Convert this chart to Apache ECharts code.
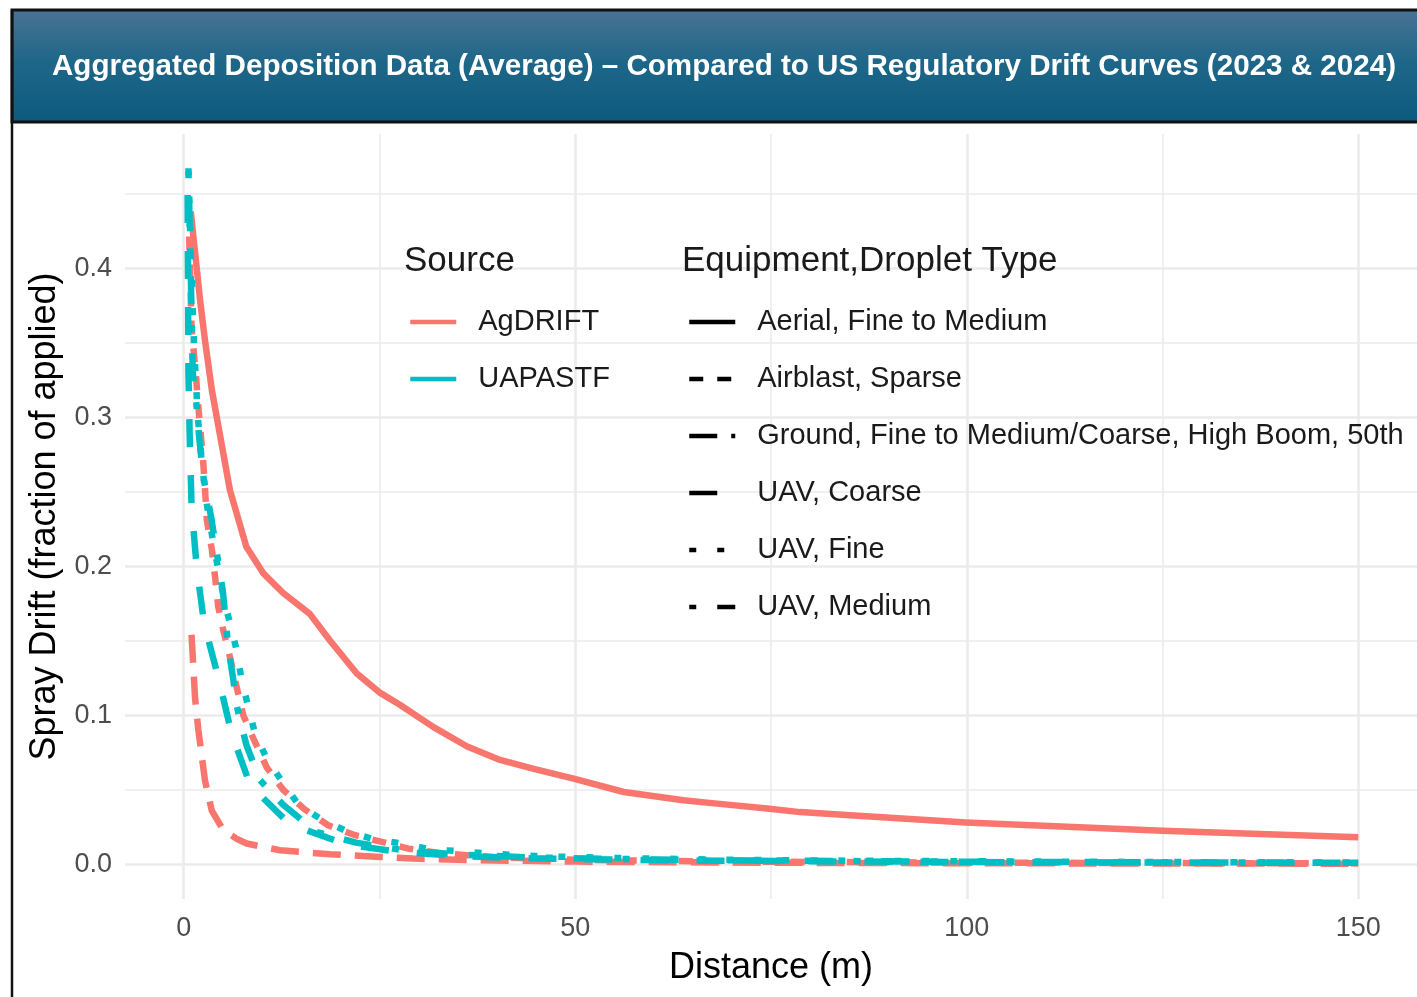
<!DOCTYPE html>
<html><head><meta charset="utf-8">
<script src="https://cdn.jsdelivr.net/npm/echarts@6/dist/echarts.min.js"></script>
<style>html,body{margin:0;padding:0;background:#fff}#c{width:1417px;height:997px}</style>
</head><body><div id="c"></div>
<script>
// ---- data (distance m, fraction of applied) ----
const aerialFineMedium = [[0.9,0.438],[2.1,0.378],[2.7,0.352],[3.6,0.318],[4.6,0.289],[5.9,0.251],[8.0,0.213],[10.2,0.195],[12.7,0.182],[16.1,0.168],[18.7,0.150],[22.1,0.128],[25.1,0.115],[27.6,0.107],[31.9,0.092],[36.2,0.079],[40.4,0.070],[44.7,0.064],[49.8,0.0575],[56.2,0.0485],[63.8,0.043],[68.1,0.0407],[74.5,0.0374],[78.7,0.035],[85.1,0.0329],[99.9,0.0281],[125,0.0225],[150,0.0182]];
const airblastSparse = [[0.6,0.44],[1.0,0.36],[1.6,0.325],[1.9,0.305],[2.5,0.269],[2.75,0.249],[2.95,0.231],[3.6,0.211],[4.0,0.193],[4.4,0.173],[5.1,0.156],[5.9,0.139],[6.8,0.118],[7.6,0.100],[9.1,0.082],[10.6,0.065],[12.7,0.050],[15.4,0.037],[18.5,0.026],[21.9,0.0195],[25.3,0.015],[28.7,0.0105],[32.7,0.0075],[36.2,0.006],[40,0.0047],[50,0.003],[60,0.0023],[75,0.0017],[100,0.0011],[125,0.0008],[150,0.0006]];
const groundHighBoom = [[1.0,0.154],[1.44,0.112],[1.87,0.09],[2.72,0.056],[3.58,0.036],[5.06,0.0228],[6.8,0.017],[8.05,0.0139],[12.3,0.0094],[18.7,0.0067],[25.1,0.0049],[29.3,0.0038],[37.9,0.0027],[50,0.0018],[75,0.001],[100,0.0007],[125,0.0005],[150,0.0004]];
const uavCoarse = [[0.5,0.449],[0.6,0.33],[0.75,0.29],[1.0,0.24],[1.66,0.199],[2.6,0.1615],[4.4,0.1257],[6.1,0.088],[8.5,0.053],[13.5,0.027],[20.7,0.0134],[27,0.0087],[35,0.0055],[45,0.0038],[60,0.0028],[80,0.002],[100,0.0015],[125,0.0012],[150,0.001]];
const uavFine = [[0.6,0.467],[0.9,0.41],[1.3,0.35],[1.8,0.30],[2.4,0.265],[3.0,0.24],[3.8,0.215],[4.5,0.195],[5.4,0.172],[6.1,0.158],[6.8,0.1425],[7.4,0.1235],[8.25,0.1056],[9.1,0.0877],[10.6,0.0709],[12.6,0.0552],[14.7,0.0396],[17.8,0.0295],[21.0,0.0217],[24.4,0.0166],[28,0.0139],[31.5,0.0099],[35.1,0.0089],[38.7,0.0072],[45,0.0055],[55,0.0042],[70,0.003],[85,0.0024],[100,0.002],[125,0.0015],[150,0.0012]];
const uavMedium = [[0.6,0.465],[0.8,0.42],[1.0,0.37],[1.15,0.33],[1.6,0.31],[2.0,0.285],[2.5,0.26],[3.5,0.233],[5.0,0.183],[5.7,0.145],[6.3,0.125],[6.8,0.1056],[8.0,0.080],[9.75,0.0564],[12.7,0.040],[16.9,0.0217],[22,0.0145],[28,0.0095],[35,0.0065],[45,0.0045],[60,0.0032],[80,0.0023],[100,0.0017],[125,0.0013],[150,0.001]];

const sources = ['AgDRIFT','UAPASTF'];
const equipment = ['Aerial, Fine to Medium','Airblast, Sparse','Ground, Fine to Medium/Coarse, High Boom, 50th','UAV, Coarse','UAV, Fine','UAV, Medium'];
const xTickLabels = [0,50,100,150];
const yTickLabels = [0,0.1,0.2,0.3,0.4];
const xMajor = [0,50,100,150], xMinor = [25,75,125];
const yMajor = [0,0.1,0.2,0.3,0.4], yMinor = [0.05,0.15,0.25,0.35,0.45];

// ---- styles ----
const COL = {AgDRIFT:'#F8766D', UAPASTF:'#00BFC4'};
const U = 7;
const DASH = {
  'Aerial, Fine to Medium':'solid',
  'Airblast, Sparse':[2*U,2*U],
  'Ground, Fine to Medium/Coarse, High Boom, 50th':[4*U,2*U],
  'UAV, Coarse':[4*U,4*U],
  'UAV, Fine':[1*U,3*U],
  'UAV, Medium':[1*U,3*U,4*U,3*U]
};
const FONT = '"Liberation Sans", Arial, sans-serif';

const curves = [
  ['AgDRIFT', equipment[0], aerialFineMedium],
  ['AgDRIFT', equipment[1], airblastSparse],
  ['AgDRIFT', equipment[2], groundHighBoom],
  ['UAPASTF', equipment[3], uavCoarse],
  ['UAPASTF', equipment[4], uavFine],
  ['UAPASTF', equipment[5], uavMedium]
];

const gridLineData = [];
xMinor.forEach(v => gridLineData.push({xAxis:v, lineStyle:{color:'#ebebeb', width:1.6, type:'solid'}}));
yMinor.forEach(v => gridLineData.push({yAxis:v, lineStyle:{color:'#ebebeb', width:1.6, type:'solid'}}));
xMajor.forEach(v => gridLineData.push({xAxis:v, lineStyle:{color:'#ebebeb', width:2.6, type:'solid'}}));
yMajor.forEach(v => gridLineData.push({yAxis:v, lineStyle:{color:'#ebebeb', width:2.6, type:'solid'}}));

const series = [{
  type:'line', data:[], silent:true, z:0,
  markLine:{silent:true, z:0, symbol:['none','none'], label:{show:false}, animation:false, data:gridLineData}
}];
curves.forEach(([src, eq, d]) => {
  series.push({
    name: src + ' / ' + eq, type:'line', data:d, symbol:'none', showSymbol:false, silent:true, z:3,
    lineStyle:{color:COL[src], width:6.5, type:DASH[eq], cap:'butt', join:'round'},
    itemStyle:{color:COL[src]}
  });
});
sources.forEach(s => series.push({name:s, type:'line', data:[], symbol:'none',
  lineStyle:{color:COL[s], width:5, type:'solid'}, itemStyle:{color:COL[s]}}));
equipment.forEach(e => series.push({name:e, type:'line', data:[], symbol:'none',
  lineStyle:{color:'#000', width:5, type:DASH[e], cap:'butt'}, itemStyle:{color:'#000'}}));

const legendCommon = {
  orient:'vertical', top:306, itemWidth:46, itemHeight:14, itemGap:25, padding:0, selectedMode:false, z:6,
  lineStyle:{width:4.5},
  itemStyle:{color:'rgba(0,0,0,0)', borderColor:'rgba(0,0,0,0)', borderWidth:0, opacity:0},
  textStyle:{fontFamily:FONT, fontSize:29, lineHeight:32, color:'#1a1a1a', padding:[0,0,0,17]}
};

const chart = echarts.init(document.getElementById('c'), null, {renderer:'canvas'});
chart.setOption({
  animation:false,
  backgroundColor:'#ffffff',
  grid:{left:125, top:134, width:1292, height:765, containLabel:false},
  xAxis:{type:'value', min:-7.5, max:157.5,
    axisLine:{show:false}, axisTick:{show:false}, splitLine:{show:false},
    axisLabel:{customValues:xTickLabels, formatter:v=>String(v), fontFamily:FONT, fontSize:27, color:'#4d4d4d', margin:16},
    name:'Distance (m)', nameLocation:'middle', nameGap:51,
    nameTextStyle:{fontFamily:FONT, fontSize:36, color:'#000'}},
  yAxis:{type:'value', min:-0.0233, max:0.49,
    axisLine:{show:false}, axisTick:{show:false}, splitLine:{show:false},
    axisLabel:{customValues:yTickLabels, formatter:v=>v.toFixed(1), fontFamily:FONT, fontSize:27, color:'#4d4d4d', margin:13},
    name:'Spray Drift (fraction of applied)', nameLocation:'middle', nameGap:62,
    nameTextStyle:{fontFamily:FONT, fontSize:36, color:'#000'}},
  legend:[
    Object.assign({}, legendCommon, {data:sources, left:408}),
    Object.assign({}, legendCommon, {data:equipment, left:687})
  ],
  graphic:[
    {type:'rect', z:10, shape:{x:12, y:10, width:1420, height:112},
      style:{fill:new echarts.graphic.LinearGradient(0,0,0,1,[{offset:0,color:'#4b7393'},{offset:0.45,color:'#1f6789'},{offset:1,color:'#0b5a7e'}]), stroke:'#111', lineWidth:3}},
    {type:'line', z:10, shape:{x1:12, y1:10, x2:12, y2:997}, style:{stroke:'#111', lineWidth:2.5}},
    {type:'text', z:11, x:724, y:67, style:{text:'Aggregated Deposition Data (Average) – Compared to US Regulatory Drift Curves (2023 & 2024)',
      fill:'#fff', font:'bold 29.6px '+FONT, textAlign:'center', textVerticalAlign:'middle'}},
    {type:'text', z:11, x:404, y:261, style:{text:'Source', fill:'#1a1a1a', font:'35px '+FONT, textAlign:'left', textVerticalAlign:'middle'}},
    {type:'text', z:11, x:682, y:261, style:{text:'Equipment,Droplet Type', fill:'#1a1a1a', font:'35px '+FONT, textAlign:'left', textVerticalAlign:'middle'}}
  ],
  series:series
});
</script></body></html>
